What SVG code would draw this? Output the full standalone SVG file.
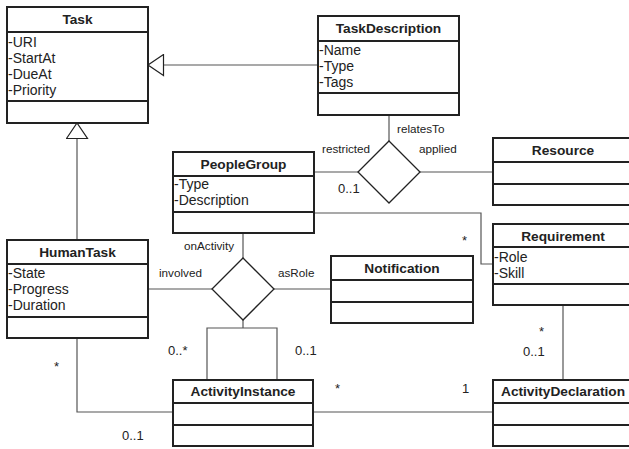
<svg xmlns="http://www.w3.org/2000/svg" width="629" height="449" viewBox="0 0 629 449">
<style>
.box{fill:#fff;stroke:#222;stroke-width:2}
.div{stroke:#222;stroke-width:2}
.title{font-family:"Liberation Sans",Arial,sans-serif;font-weight:bold;font-size:13.7px;fill:#222;text-anchor:middle}
.attr{font-family:"Liberation Sans",Arial,sans-serif;font-size:14px;fill:#222}
.lbl{font-family:"Liberation Sans",Arial,sans-serif;font-size:11.7px;fill:#222}
.mul{font-family:"Liberation Sans",Arial,sans-serif;font-size:13px;fill:#222}
.con{fill:none;stroke:#555;stroke-width:1.2}
.dia{fill:#fff;stroke:#222;stroke-width:1.3}
</style>
<defs>
<marker id="gen" markerUnits="userSpaceOnUse" markerWidth="17" markerHeight="23" refX="15.5" refY="11" orient="auto" viewBox="-1 0 17 22">
<path d="M0,0.5 L15.5,11 L0,21.5 Z" fill="#fff" stroke="#222" stroke-width="1.2"/>
</marker>
</defs>
<g id="connectors">
<line class="con" x1="317" y1="65" x2="148" y2="65" marker-end="url(#gen)"/>
<line class="con" x1="77" y1="239" x2="77" y2="123" marker-end="url(#gen)"/>
<line class="con" x1="389" y1="115" x2="389" y2="141"/>
<line class="con" x1="314" y1="172" x2="358" y2="172"/>
<line class="con" x1="420" y1="172" x2="492" y2="172"/>
<polyline class="con" points="314,213 481,213 481,264 492,264"/>
<line class="con" x1="243" y1="233" x2="243" y2="258"/>
<line class="con" x1="148" y1="289" x2="212" y2="289"/>
<line class="con" x1="274" y1="289" x2="331" y2="289"/>
<line class="con" x1="243" y1="320" x2="243" y2="328"/>
<polyline class="con" points="207,379 207,328 277,328 277,379"/>
<polyline class="con" points="77,338 77,412 172,412"/>
<line class="con" x1="313" y1="412" x2="492" y2="412"/>
<line class="con" x1="563" y1="305" x2="563" y2="379"/>
<polygon id="d1" class="dia" points="389,141 420,172 389,203 358,172"/>
<polygon id="d2" class="dia" points="243,258 274,289 243,320 212,289"/>
<text class="lbl" x="397" y="133">relatesTo</text>
<text class="lbl" x="322" y="153">restricted</text>
<text class="lbl" x="419" y="153">applied</text>
<text class="mul" x="338" y="193">0..1</text>
<text class="mul" x="462" y="245">*</text>
<text class="lbl" x="184" y="250">onActivity</text>
<text class="lbl" x="159" y="277">involved</text>
<text class="lbl" x="278" y="277">asRole</text>
<text class="mul" x="168" y="355">0..*</text>
<text class="mul" x="295" y="355">0..1</text>
<text class="mul" x="54" y="371">*</text>
<text class="mul" x="122" y="440">0..1</text>
<text class="mul" x="335" y="393">*</text>
<text class="mul" x="462" y="393">1</text>
<text class="mul" x="539" y="336">*</text>
<text class="mul" x="523" y="356">0..1</text>
</g>
<g id="Task">
<rect class="box" x="7" y="7" width="141" height="116"/>
<line class="div" x1="7" y1="32" x2="148" y2="32"/>
<line class="div" x1="7" y1="101" x2="148" y2="101"/>
<text class="title" x="77.5" y="24">Task</text>
<text class="attr" x="8" y="47">-URI</text>
<text class="attr" x="8" y="63">-StartAt</text>
<text class="attr" x="8" y="79">-DueAt</text>
<text class="attr" x="8" y="95">-Priority</text>
</g>
<g id="TaskDescription">
<rect class="box" x="318" y="16" width="141" height="99"/>
<line class="div" x1="318" y1="41" x2="459" y2="41"/>
<line class="div" x1="318" y1="93" x2="459" y2="93"/>
<text class="title" x="388.5" y="33">TaskDescription</text>
<text class="attr" x="319" y="55">-Name</text>
<text class="attr" x="319" y="71">-Type</text>
<text class="attr" x="319" y="87">-Tags</text>
</g>
<g id="PeopleGroup">
<rect class="box" x="173" y="152" width="141" height="81"/>
<line class="div" x1="173" y1="176" x2="314" y2="176"/>
<line class="div" x1="173" y1="212" x2="314" y2="212"/>
<text class="title" x="243.5" y="169">PeopleGroup</text>
<text class="attr" x="174" y="189">-Type</text>
<text class="attr" x="174" y="205">-Description</text>
</g>
<g id="Resource">
<rect class="box" x="493" y="138" width="141" height="67"/>
<line class="div" x1="493" y1="162" x2="634" y2="162"/>
<line class="div" x1="493" y1="184" x2="634" y2="184"/>
<text class="title" x="563" y="155">Resource</text>
</g>
<g id="Requirement">
<rect class="box" x="493" y="224" width="141" height="81"/>
<line class="div" x1="493" y1="247" x2="634" y2="247"/>
<line class="div" x1="493" y1="284" x2="634" y2="284"/>
<text class="title" x="563" y="241">Requirement</text>
<text class="attr" x="494" y="262">-Role</text>
<text class="attr" x="494" y="278">-Skill</text>
</g>
<g id="Notification">
<rect class="box" x="331" y="256" width="142" height="67"/>
<line class="div" x1="331" y1="280" x2="473" y2="280"/>
<line class="div" x1="331" y1="302" x2="473" y2="302"/>
<text class="title" x="402" y="273">Notification</text>
</g>
<g id="HumanTask">
<rect class="box" x="7" y="240" width="141" height="98"/>
<line class="div" x1="7" y1="264" x2="148" y2="264"/>
<line class="div" x1="7" y1="317" x2="148" y2="317"/>
<text class="title" x="77.5" y="257">HumanTask</text>
<text class="attr" x="8" y="278">-State</text>
<text class="attr" x="8" y="294">-Progress</text>
<text class="attr" x="8" y="310">-Duration</text>
</g>
<g id="ActivityInstance">
<rect class="box" x="173" y="380" width="140" height="66"/>
<line class="div" x1="173" y1="403" x2="313" y2="403"/>
<line class="div" x1="173" y1="425" x2="313" y2="425"/>
<text class="title" x="243" y="396">ActivityInstance</text>
</g>
<g id="ActivityDeclaration">
<rect class="box" x="493" y="380" width="141" height="66"/>
<line class="div" x1="493" y1="403" x2="634" y2="403"/>
<line class="div" x1="493" y1="425" x2="634" y2="425"/>
<text class="title" x="563" y="396">ActivityDeclaration</text>
</g>
</svg>
